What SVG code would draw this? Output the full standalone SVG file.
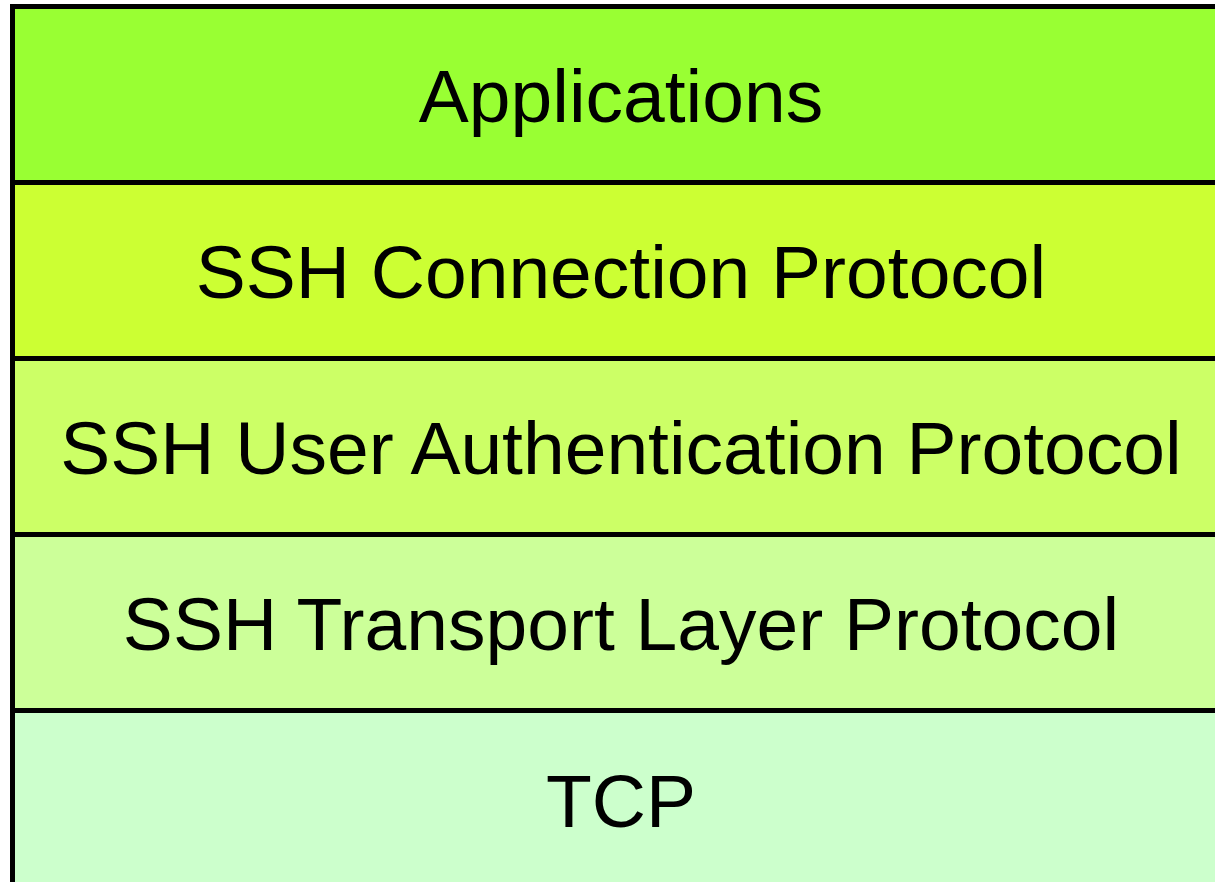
<svg xmlns="http://www.w3.org/2000/svg" width="1215" height="882" viewBox="0 0 1215 882">
  <style>
    .layer { stroke: #000; stroke-width: 5; }
    .label { font-family: "Liberation Sans", Arial, sans-serif; font-size: 75px; fill: #000; text-anchor: middle; }
  </style>
  <rect width="1215" height="882" fill="#fff"/>
  <!-- Protocol stack, top to bottom -->
  <g id="applications">
    <rect class="layer" x="12.5" y="6.5" width="1230" height="176" fill="#99FF33"/>
    <text class="label" x="621" y="122">Applications</text>
  </g>
  <g id="ssh-connection">
    <rect class="layer" x="12.5" y="182.5" width="1230" height="176" fill="#CCFF33"/>
    <text class="label" x="621" y="298">SSH Connection Protocol</text>
  </g>
  <g id="ssh-userauth">
    <rect class="layer" x="12.5" y="358.5" width="1230" height="176" fill="#CCFF66"/>
    <text class="label" x="621" y="474">SSH User Authentication Protocol</text>
  </g>
  <g id="ssh-transport">
    <rect class="layer" x="12.5" y="534.5" width="1230" height="176" fill="#CCFF99"/>
    <text class="label" x="621" y="650">SSH Transport Layer Protocol</text>
  </g>
  <g id="tcp">
    <rect class="layer" x="12.5" y="710.5" width="1230" height="200" fill="#CCFFCC"/>
    <text class="label" x="621" y="827">TCP</text>
  </g>
  <g id="connectors"></g>
</svg>
